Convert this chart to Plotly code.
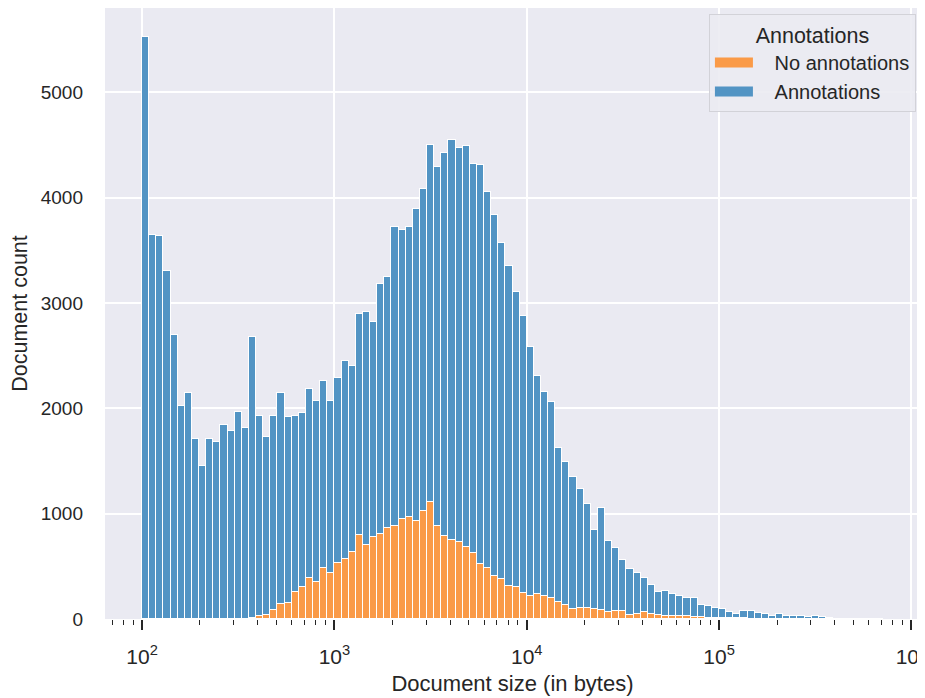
import numpy as np
import plotly.graph_objects as go

# ---- data (log10-spaced histogram, 27 bins per decade starting at 10^2) ----
log_start = 2.0
bins_per_decade = 27

total_counts = [
    5526, 3647, 3635, 3301, 2699, 2026, 2150, 1711, 1455, 1711,
    1684, 1842, 1782, 1966, 1816, 2680, 1925, 1726, 1925, 2143,
    1917, 1932, 1955, 2180, 2071, 2256, 2070, 2290, 2447, 2400,
    2892, 2918, 2816, 3177, 3249, 3718, 3695, 3718, 3895, 4085,
    4505, 4292, 4423, 4544, 4475, 4489, 4325, 4308, 4056, 3839,
    3567, 3348, 3108, 2875, 2584, 2308, 2151, 2056, 1620, 1492,
    1351, 1236, 1088, 843, 1053, 736, 673, 557, 478, 434,
    387, 324, 258, 270, 236, 223, 198, 195, 129, 119,
    104, 94, 62, 46, 78, 75, 53, 43, 24, 43,
    24, 24, 24, 21, 24, 15, 6, 4, 3, 2,
    2, 1, 1, 1,
]

no_annotations = [
    0, 0, 0, 0, 0, 0, 0, 0, 0, 0,
    0, 0, 0, 0, 0, 11, 30, 38, 86, 139,
    150, 256, 301, 387, 350, 489, 440, 530, 567, 634,
    793, 705, 777, 803, 866, 885, 954, 970, 934, 1023,
    1115, 882, 790, 751, 728, 685, 630, 525, 482, 410,
    377, 318, 305, 246, 223, 233, 216, 197, 161, 131,
    92, 102, 101, 91, 85, 63, 75, 72, 41, 50,
    63, 50, 35, 31, 31, 28, 28, 22, 15, 12,
    10, 8, 6, 5, 5, 4, 3, 3, 2, 2,
    2, 1, 1, 1, 1, 0, 0, 0, 0, 0,
    0, 0, 0, 0,
]

annotations = [t - n for t, n in zip(total_counts, no_annotations)]

series_names = ["No annotations", "Annotations"]
tick_exponents = [2, 3, 4, 5, 6]
y_ticks = [0, 1000, 2000, 3000, 4000, 5000]

# ---- styling ----
BG = "#EAEAF2"
ORANGE = "rgb(250,154,71)"
BLUE = "rgb(82,148,196)"
TEXT = "#262626"
FONT = "Liberation Sans, Arial, sans-serif"
PAD = "\u00a0\u00a0\u00a0"

bin_w = 1.0 / bins_per_decade
n_bins = len(total_counts)
centers = [log_start + (i + 0.5) * bin_w for i in range(n_bins)]

data_hi = log_start + n_bins * bin_w
span = data_hi - log_start
x_range = [log_start - 0.05 * span, data_hi + 0.05 * span]

minor_ticks = [np.log10(k * 10 ** e) for e in range(1, 7) for k in range(2, 10)]
minor_ticks = [v for v in minor_ticks if x_range[0] <= v <= x_range[1]]

fig = go.Figure()
fig.add_trace(go.Bar(
    x=centers, y=no_annotations, width=bin_w, name=series_names[0],
    marker=dict(color=ORANGE, line=dict(color="white", width=1)),
    showlegend=False,
))
fig.add_trace(go.Bar(
    x=centers, y=annotations, width=bin_w, name=series_names[1],
    marker=dict(color=BLUE, line=dict(color="white", width=1)),
    showlegend=False,
))
# legend patches
for name, col in zip(series_names, [ORANGE, BLUE]):
    fig.add_trace(go.Scatter(
        x=[None], y=[None], mode="lines", name=PAD + name,
        line=dict(color=col, width=13), xaxis="x2",
    ))

fig.update_layout(
    width=925, height=698,
    margin=dict(l=97, r=13, t=0, b=87, autoexpand=False),
    paper_bgcolor="white", plot_bgcolor=BG,
    barmode="stack", bargap=0,
    font=dict(family=FONT, color=TEXT, size=19),
    xaxis=dict(
        range=x_range, tickvals=tick_exponents,
        ticktext=[f"10<sup>{e}</sup>" for e in tick_exponents],
        ticks="outside", ticklen=10, tickwidth=2, tickcolor=TEXT,
        showgrid=True, gridcolor="white", gridwidth=1.8,
        zeroline=False, showline=False,
        tickfont=dict(size=21), ticklabelstandoff=9,
        title=dict(text="Document size (in bytes)", font=dict(size=22), standoff=8),
    ),
    xaxis2=dict(
        overlaying="x", anchor="y", side="bottom", range=x_range,
        tickvals=minor_ticks, ticks="outside", ticklen=5, tickwidth=1.3,
        tickcolor=TEXT, showticklabels=False, showgrid=False,
        zeroline=False, showline=False,
    ),
    yaxis=dict(
        range=[0, 5802], tickvals=y_ticks, ticks="",
        showgrid=True, gridcolor="white", gridwidth=1.8,
        zeroline=False, showline=False,
        tickfont=dict(size=19), ticklabelstandoff=21,
        title=dict(text="Document count", font=dict(size=21.5), standoff=7),
    ),
    legend=dict(
        x=0.995, xanchor="right", y=0.99, yanchor="top",
        bgcolor="rgba(235,235,242,0.9)", bordercolor="#D2D2D8", borderwidth=1,
        font=dict(size=20), traceorder="normal", itemwidth=38,
        title=dict(text="Annotations", side="top center", font=dict(size=21.5)),
    ),
)

fig.write_html("out.html")
